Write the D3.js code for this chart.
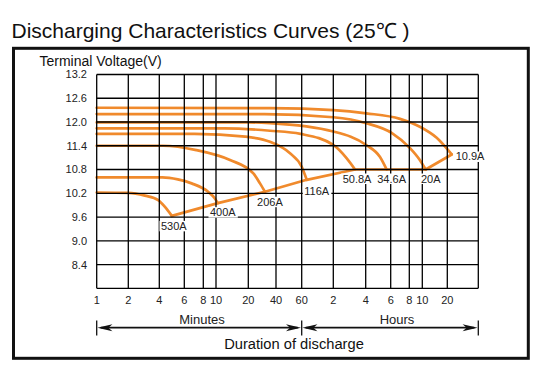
<!DOCTYPE html>
<html><head><meta charset="utf-8">
<script src="https://cdn.jsdelivr.net/npm/d3@7"></script>
<style>
body{margin:0;background:#fff;}
svg{display:block;font-family:Arial,"Liberation Sans",Helvetica,sans-serif;}
</style>
</head><body>
<svg id="c" width="544" height="374"></svg>
<script>
// ---------- data ----------
const titleText = "Discharging Characteristics Curves (25\u2103 )";
const yLabel = "Terminal Voltage(V)";
const xTitle = "Duration of discharge";
const yTicks = [13.2, 12.6, 12.0, 11.4, 10.8, 10.2, 9.6, 9.0, 8.4];
const yMin = 7.8, yMax = 13.2;
const xTickMinutes = [1, 2, 4, 6, 8, 10, 20, 40, 60, 120, 240, 360, 480, 600, 1200];
const xTickLabels = ["1","2","4","6","8","10","20","40","60","2","4","6","8","10","20"];
const xEndMinutes = 2400;
const unitNames = ["Minutes", "Hours"];

const currents = ["530A", "400A", "206A", "116A", "50.8A", "34.6A", "20A", "10.9A"];
// [minutes, volts]
const curve530A = [[1,10.22],[2,10.21],[2.9,10.14],[3.9,10.03],[4.4,9.85],[4.9,9.63]];
const curve400A = [[1,10.6],[4.2,10.6],[5.4,10.55],[6.7,10.45],[8.7,10.24],[9.8,10.07],[10.4,9.95]];
const curve206A = [[1,11.4],[4.25,11.4],[7.2,11.29],[13.5,11.04],[22.7,10.7],[26.8,10.45],[30.3,10.24]];
const curve116A = [[1,11.7],[7,11.7],[18.7,11.63],[34.4,11.5],[49.9,11.21],[60,10.87],[67,10.54]];
const curve50_8A = [[1,11.84],[12,11.84],[34.4,11.78],[58.8,11.7],[120,11.42],[160,11.08],[191,10.8]];
const curve34_6A = [[1,11.99],[20,11.99],[34.4,11.97],[120,11.76],[242,11.42],[302,11.12],[337,10.8]];
const curve20A = [[1,12.2],[30,12.2],[120,12.12],[242,11.97],[367,11.72],[486,11.34],[575,11.04],[659,10.8]];
const curve10_9A = [[1,12.36],[34,12.35],[120,12.30],[242,12.22],[416,12.08],[575,11.88],[894,11.6],[1324,11.18]];
const curves = [curve530A, curve400A, curve206A, curve116A, curve50_8A, curve34_6A, curve20A, curve10_9A];

// ---------- layout ----------
const W = 544, H = 374;
const P = {left: 96.7, top: 74.5, right: 478.3, bottom: 288.3};
const orange = "#F08A2C";
// printed (hand-spaced) log grid: fraction of plot width for each tick + end
const gridFrac = [0, 31.6, 62.6, 87.6, 106.6, 119.3, 151.6, 179.3, 205, 236.6, 269, 294, 312.6, 325.6, 350.6, 381.6].map(v => v / 381.6);
const labelLayout = [
  {dx: 2, dy: 14, anchor: "middle"},
  {dx: 5, dy: 13, anchor: "middle"},
  {dx: 5, dy: 14, anchor: "middle"},
  {dx: 10, dy: 15, anchor: "middle"},
  {dx: 2, dy: 13, anchor: "middle"},
  {dx: 5, dy: 13, anchor: "middle"},
  {dx: 5, dy: 13, anchor: "middle"},
  {dx: 4, dy: 6, anchor: "start"}
];

const svg = d3.select("#c");
svg.append("rect").attr("width", W).attr("height", H).attr("fill", "#fff");

const y = d3.scaleLinear().domain([yMin, yMax]).range([P.bottom, P.top]);
const xs = d3.scaleLinear()
  .domain([...xTickMinutes, xEndMinutes].map(Math.log))
  .range(gridFrac.map(f => P.left + f * (P.right - P.left)));
const x = t => xs(Math.log(t));

// title
svg.append("text").attr("x", 11.5).attr("y", 37.5)
  .attr("font-size", 21).attr("fill", "#111").text(titleText);

// outer frame
svg.append("rect").attr("x", 13.5).attr("y", 48.3).attr("width", 528.3 - 13.5).attr("height", 358.3 - 48.3)
  .attr("fill", "none").attr("stroke", "#111").attr("stroke-width", 3);

// y label
svg.append("text").attr("x", 39.5).attr("y", 65.7).attr("font-size", 14).attr("fill", "#111").text(yLabel);

// curves
const line = d3.line().x(d => x(d[0])).y(d => y(d[1])).curve(d3.curveMonotoneX);
svg.append("g").selectAll("path").data(curves).join("path")
  .attr("d", line).attr("fill", "none").attr("stroke", orange)
  .attr("stroke-width", 2.7).attr("stroke-linejoin", "round").attr("stroke-linecap", "round");

// end-of-discharge line
const ends = curves.map(c => c[c.length - 1]);
svg.append("path").attr("d", d3.line().x(d => x(d[0])).y(d => y(d[1]))(ends))
  .attr("fill", "none").attr("stroke", orange).attr("stroke-width", 2.7)
  .attr("stroke-linejoin", "round").attr("stroke-linecap", "round");

// grid (on top)
const grid = svg.append("g").attr("stroke", "#000").attr("stroke-width", 1.3);
grid.selectAll("line.v").data([...xTickMinutes, xEndMinutes]).join("line").attr("class", "v")
  .attr("x1", d => x(d)).attr("x2", d => x(d)).attr("y1", P.top).attr("y2", P.bottom);
grid.selectAll("line.h").data([...yTicks, yMin]).join("line").attr("class", "h")
  .attr("x1", P.left).attr("x2", P.right).attr("y1", d => y(d)).attr("y2", d => y(d));

// y tick labels
svg.append("g").selectAll("text").data(yTicks).join("text")
  .attr("x", 87).attr("y", d => y(d)).attr("dy", "0.36em").attr("text-anchor", "end")
  .attr("font-size", 11).attr("fill", "#222").text(d => d.toFixed(1));

// x tick labels
svg.append("g").selectAll("text").data(xTickMinutes).join("text")
  .attr("x", d => x(d)).attr("y", 303.5).attr("text-anchor", "middle")
  .attr("font-size", 11).attr("fill", "#222").text((d, i) => xTickLabels[i]);

// current labels with white backing
const lg = svg.append("g");
currents.forEach((name, i) => {
  const e = ends[i], L = labelLayout[i];
  const g = lg.append("g");
  const t = g.append("text").attr("x", x(e[0]) + L.dx).attr("y", y(e[1]) + L.dy)
    .attr("text-anchor", L.anchor).attr("font-size", 11).attr("fill", "#222").text(name);
  const b = t.node().getBBox();
  g.insert("rect", "text").attr("x", b.x - 1.5).attr("y", b.y + 1).attr("width", b.width + 3).attr("height", b.height - 1.5)
    .attr("fill", "#fff");
});

// duration arrows
const ay = 327.7;
const arrows = svg.append("g");
const xA = x(1), xB = x(60), xC = x(xEndMinutes);
[xA, xB, xC].forEach(v => arrows.append("line").attr("x1", v).attr("x2", v).attr("y1", 320.5).attr("y2", 335.5)
  .attr("stroke", "#111").attr("stroke-width", 1.3));
[[xA, xB], [xB, xC]].forEach(([a, b]) => {
  arrows.append("line").attr("x1", a + 4).attr("x2", b - 4).attr("y1", ay).attr("y2", ay)
    .attr("stroke", "#111").attr("stroke-width", 1.8);
  const head = (tip, dir) => `M${tip},${ay} L${tip + dir * 15},${ay - 3.5} L${tip + dir * 11},${ay} L${tip + dir * 15},${ay + 3.5} Z`;
  arrows.append("path").attr("d", head(a + 0.7, 1)).attr("fill", "#111");
  arrows.append("path").attr("d", head(b - 0.7, -1)).attr("fill", "#111");
});
svg.append("text").attr("x", 202).attr("y", 323.5).attr("text-anchor", "middle").attr("font-size", 13)
  .attr("fill", "#222").text(unitNames[0]);
svg.append("text").attr("x", 397).attr("y", 323.5).attr("text-anchor", "middle").attr("font-size", 13)
  .attr("fill", "#222").text(unitNames[1]);
svg.append("text").attr("x", 294).attr("y", 349.3).attr("text-anchor", "middle").attr("font-size", 14.7)
  .attr("fill", "#111").text(xTitle);
</script>
</body></html>
